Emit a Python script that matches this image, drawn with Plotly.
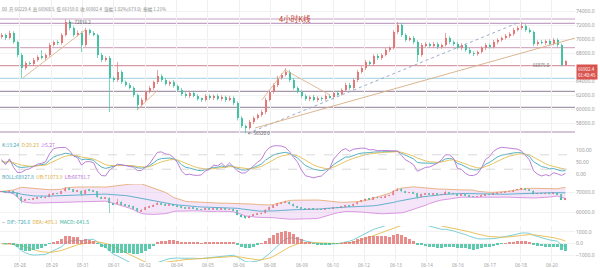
import numpy as np
import plotly.graph_objects as go

# ---------------- data ----------------
CLOSE = [70570,70140,70860,69570,67710,65860,66570,66430,67000,67430,
         67290,67710,69140,69570,69430,70570,72430,71570,70570,70860,
         69140,71290,70860,70570,67710,67000,67290,64430,64140,65290,
         63860,63430,63000,62000,60570,61290,62430,63000,63860,64710,
         64140,63570,63860,63290,62710,62140,61860,62290,61860,61430,
         61290,61860,61570,61860,61430,61710,61290,61570,60860,58710,
         57570,57290,58140,58710,59140,59570,61290,62430,63430,64430,
         64860,65290,64140,63000,62430,61860,61430,61710,61290,61570,
         61430,61860,61710,62290,62140,62710,63430,63000,64140,65290,
         65860,66710,66430,67570,67290,67710,68430,68710,71000,72000,
         70570,69860,70140,69570,67710,69140,69290,69000,69290,68860,
         69140,70140,69570,69290,68710,69140,68430,68000,67860,68140,
         68710,69140,68860,69570,69860,70140,70430,70710,71290,71570,
         71860,71290,71000,69290,69570,69430,69710,69290,69860,69140,
         66229.4,66902.4]
FIRST_OPEN = 70300.0
UP_WICK = [300,200,350,250,200,300,250,200,300,250,
           1000,250,300,200,250,300,386,300,250,350,
           250,300,200,250,200,300,250,300,200,1420,
           250,200,300,250,200,300,250,300,200,860,
           250,300,200,250,200,300,250,200,300,250,
           200,300,250,200,300,250,200,300,250,200,
           250,200,300,250,200,300,350,300,250,300,
           250,570,300,250,200,300,250,200,300,250,
           200,300,250,200,300,250,350,300,250,300,
           250,300,200,250,300,250,300,250,300,430,
           300,250,200,300,250,300,250,200,300,250,
           200,720,250,200,300,250,200,300,250,200,
           300,250,200,300,250,200,300,250,300,250,
           570,250,300,200,250,300,200,250,300,250,
           200,66.1]
DOWN_WICK = [250,300,200,250,300,1430,250,200,300,250,
             200,300,250,200,300,250,200,300,250,200,
             1000,250,300,200,420,300,250,4860,300,250,
             300,250,200,300,710,250,300,200,250,300,
             250,200,300,250,200,300,250,300,200,250,
             300,200,250,300,200,250,300,200,300,350,
             300,770,250,300,200,250,300,200,250,300,
             250,200,300,250,200,300,250,300,200,250,
             300,250,200,300,250,200,300,250,200,300,
             250,300,200,250,300,250,200,300,250,300,
             300,250,200,300,1000,250,300,200,250,300,
             250,200,300,250,200,300,250,200,300,250,
             200,300,250,200,300,250,200,300,250,200,
             300,250,200,300,250,200,300,250,200,300,
             130,70.4]

LEVELS = [72857, 72243, 68757, 66186, 64386, 62529, 60243, 56714]
LEVEL_COLORS = ['#c4a4c6', '#c4a4c6', '#d6aec4', '#d99aa8', '#b4d8e8', '#a797aa', '#a797aa', '#a58db0']

# trend lines: (start index, start price, end index, end price, colour, dash)
TRENDS = [(5.4, 64470, 20.9, 71290, '#dcb48c', 'solid'),
          (33.9, 59860, 39.1, 62710, '#dcb48c', 'solid'),
          (65.1, 61290, 70.9, 65570, '#dcb48c', 'solid'),
          (70.9, 65570, 82.1, 62000, '#dcb48c', 'solid'),
          (61.6, 56520, 129.6, 72430, '#8fa3c4', 'dot'),
          (63.4, 57290, 143.4, 70140, '#d8ae86', 'solid')]

PRICE_TICKS = [56000, 58000, 60000, 62000, 64000, 68000, 70000, 72000, 74000]
KDJ_TICKS = [0, 50, 100]
KDJ_DASH = [20, 80]
BOLL_TICKS = [60000, 70000]
MACD_TICKS = [-1000, 0, 1000]
DATE_IDX = [4.6, 12.5, 20.3, 28.1, 35.9, 43.8, 51.6, 59.4, 67.2, 75.0,
            82.9, 90.7, 98.5, 106.3, 114.1, 122.0, 129.8, 137.6]
DATE_LABELS = ['05-28', '05-29', '05-31', '06-01', '06-02', '06-04', '06-05', '06-06', '06-08',
               '06-09', '06-10', '06-12', '06-13', '06-14', '06-16', '06-17', '06-18', '06-20']

# ---------------- derived OHLC & indicators ----------------
c = np.array(CLOSE, float)
o = np.r_[FIRST_OPEN, c[:-1]]
h = np.maximum(o, c) + np.array(UP_WICK)
l = np.minimum(o, c) - np.array(DOWN_WICK)
n = len(c)
idx = np.arange(n)

K, D, J = [], [], []
k = d = 50.0
for i in range(n):
    lo = l[max(0, i - 8):i + 1].min(); hi = h[max(0, i - 8):i + 1].max()
    rsv = (c[i] - lo) / (hi - lo) * 100 if hi > lo else 50
    k = 2 / 3 * k + rsv / 3
    d = 2 / 3 * d + k / 3
    K.append(k); D.append(d); J.append(3 * k - 2 * d)

MID, UB, LB = [], [], []
for i in range(n):
    w = c[max(0, i - 19):i + 1]
    m = w.mean(); s = w.std()
    MID.append(m); UB.append(m + 2 * s); LB.append(m - 2 * s)

def ema(x, p):
    out = []; e = x[0]; a = 2 / (p + 1)
    for v in x:
        e = a * v + (1 - a) * e
        out.append(e)
    return np.array(out)

DIF = ema(c, 12) - ema(c, 26)
DEA = ema(DIF, 9)
HIST = 2 * (DIF - DEA)

# ---------------- figure ----------------
UPC, DNC = '#e47878', '#43c3a2'
H_PLOT = 268.0
W_PLOT = 575.0
def fy(px):
    return 1 - px / H_PLOT
def fx(px):
    return px / W_PLOT

fig = go.Figure()

def add_candles(xa, ya, body_w, lw):
    up = c >= o
    for mask, col in ((up, UPC), (~up, DNC)):
        xs, ys = [], []
        for i in idx[mask]:
            xs += [i, i, None]; ys += [l[i], h[i], None]
        fig.add_trace(go.Scatter(x=xs, y=ys, xaxis=xa, yaxis=ya, mode='lines',
                                 line=dict(color=col, width=lw), hoverinfo='skip'))
        body = np.maximum(np.abs(c - o), 40)
        fig.add_trace(go.Bar(x=idx[mask], y=body[mask], base=np.minimum(o, c)[mask], xaxis=xa, yaxis=ya,
                             width=body_w, marker=dict(color=col, line=dict(width=0)), hoverinfo='skip'))

add_candles('x', 'y', 0.5, 0.7)

fig.add_trace(go.Scatter(x=idx, y=K, xaxis='x2', yaxis='y2', mode='lines', line=dict(color='#3fa7b8', width=0.9)))
fig.add_trace(go.Scatter(x=idx, y=D, xaxis='x2', yaxis='y2', mode='lines', line=dict(color='#e2bd4f', width=0.9)))
fig.add_trace(go.Scatter(x=idx, y=J, xaxis='x2', yaxis='y2', mode='lines', line=dict(color='#b66fd2', width=0.9)))

fig.add_trace(go.Scatter(x=idx, y=UB, xaxis='x3', yaxis='y3', mode='lines', line=dict(color='#e6ad78', width=0.9)))
fig.add_trace(go.Scatter(x=idx, y=LB, xaxis='x3', yaxis='y3', mode='lines', line=dict(color='#d58fdc', width=0.9),
                         fill='tonexty', fillcolor='rgba(226,186,240,0.38)'))
fig.add_trace(go.Scatter(x=idx, y=MID, xaxis='x3', yaxis='y3', mode='lines', line=dict(color='#52a9c9', width=0.9)))
add_candles('x3', 'y3', 0.35, 0.6)

# histogram on its own (zero-aligned) scale, lines on the labelled scale
fig.add_trace(go.Bar(x=idx, y=HIST, xaxis='x4', yaxis='y5',
                     marker=dict(color=[UPC if v >= 0 else DNC for v in HIST], line=dict(width=0)),
                     width=0.6, opacity=0.85, hoverinfo='skip'))
fig.add_trace(go.Scatter(x=idx, y=DIF, xaxis='x4', yaxis='y4', mode='lines', line=dict(color='#6cc9d3', width=0.9)))
fig.add_trace(go.Scatter(x=idx, y=DEA, xaxis='x4', yaxis='y4', mode='lines', line=dict(color='#e8bb4c', width=0.9)))

tickfont = dict(size=5, color='#9a9a9a', family='Noto Sans')
xcommon = dict(range=[-0.375, 143.375], showgrid=True, gridcolor='#f0f0f0', gridwidth=0.8,
               tickvals=DATE_IDX, ticktext=DATE_LABELS, zeroline=False, showline=False,
               tickfont=tickfont, ticks='', showticklabels=False)
ycommon = dict(side='right', showgrid=True, gridcolor='#f2f2f2', zeroline=False, showline=False,
               tickfont=tickfont, ticks='')

MACD_RANGE = [-1560, 1490]
fig.update_layout(
    width=600, height=268, margin=dict(l=0, r=25, t=0, b=0),
    paper_bgcolor='white', plot_bgcolor='white', showlegend=False, barmode='overlay', bargap=0,
    font=dict(family='Noto Sans CJK SC'),
    xaxis=dict(xcommon, anchor='y'),
    xaxis2=dict(xcommon, anchor='y2', matches='x'),
    xaxis3=dict(xcommon, anchor='y3', matches='x'),
    xaxis4=dict(xcommon, anchor='y4', matches='x'),
    yaxis=dict(ycommon, domain=[fy(134), fy(0)], range=[56429, 75571], tickvals=PRICE_TICKS, tickformat='.1f'),
    yaxis2=dict(ycommon, domain=[fy(180), fy(138)], range=[-25, 150], tickvals=KDJ_TICKS, tickformat='.2f', showgrid=False),
    yaxis3=dict(ycommon, domain=[fy(221), fy(184)], range=[55495, 74344], tickvals=BOLL_TICKS, tickformat='.1f'),
    yaxis4=dict(ycommon, domain=[fy(262), fy(226)], range=MACD_RANGE, tickvals=MACD_TICKS, tickformat='.1f'),
    yaxis5=dict(overlaying='y4', range=[MACD_RANGE[0] * 1.6, MACD_RANGE[1] * 1.6], visible=False),
)

shapes = []
for lv, col in zip(LEVELS, LEVEL_COLORS):
    shapes.append(dict(type='line', xref='paper', yref='y', x0=0, x1=1, y0=lv, y1=lv,
                       line=dict(color=col, width=1.2), layer='below'))
for x0, y0, x1, y1, col, dash in TRENDS:
    shapes.append(dict(type='line', xref='x', yref='y', x0=x0, x1=x1, y0=y0, y1=y1,
                       line=dict(color=col, width=0.9, dash=dash)))
for v in KDJ_DASH:
    shapes.append(dict(type='line', xref='paper', yref='y2', x0=0, x1=1, y0=v, y1=v,
                       line=dict(color='#c8c8c8', width=0.7, dash='dash')))
fig.update_layout(shapes=shapes)

def span(t, col):
    return f"<span style='color:{col}'>{t}</span>"

ann = [
    dict(x=fx(295), y=fy(11), text='4小时K线', font=dict(size=7.5, color='#c0392b')),
    dict(x=0, y=fy(4), xanchor='left',
         text='00  开 66229.4  高 66968.5  低 66159.0  收 66902.4  涨幅 1.02%(673.0)  振幅 1.21%',
         font=dict(size=4.5, color='#8a8a8a')),
    dict(x=0, y=fy(144), xanchor='left',
         text=span('K:19.24', '#3fa7b8') + '  ' + span('D:29.23', '#d9ae3a') + '  ' + span('J:5.27', '#b66fd2'),
         font=dict(size=5)),
    dict(x=0, y=fy(182), xanchor='left',
         text=span('BOLL:68927.8', '#3fa7b8') + '  ' + span('UB:71073.9', '#d9ae3a') + '  ' + span('LB:66781.7', '#b66fd2'),
         font=dict(size=5)),
    dict(x=0, y=fy(226.7), xanchor='left',
         text=span('–', '#333333') + '  ' + span('DIF:-726.6', '#3fa7b8') + '  ' + span('DEA:-405.1', '#d9ae3a') + '  ' + span('MACD:-641.5', '#2fb08f'),
         font=dict(size=5)),
    dict(x=fx(67), y=fy(17), xanchor='left', text='← 72816.2', font=dict(size=4.5, color='#555555')),
    dict(x=fx(246), y=fy(133), xanchor='left', text='← 56520.0', font=dict(size=4.5, color='#555555')),
    dict(x=fx(531), y=fy(60), xanchor='left', text='66875.0', font=dict(size=4.5, color='#666666')),
    dict(x=fx(576), y=fy(64), xanchor='left', text='66902.4<br>01:40:45', bgcolor='#d9534f',
         font=dict(size=4.5, color='white'), borderpad=1, align='left'),
]
# date labels along the bottom edge
for xi, lab in zip(DATE_IDX, DATE_LABELS):
    ann.append(dict(x=xi, xref='x4', y=fy(265), yanchor='middle', text=lab,
                    font=dict(size=4.5, color='#a0a0a0', family='Noto Sans')))
for a in ann:
    a.setdefault('xref', 'paper'); a.setdefault('yref', 'paper'); a.setdefault('showarrow', False)
fig.update_layout(annotations=ann)

fig.write_html('out.html')
